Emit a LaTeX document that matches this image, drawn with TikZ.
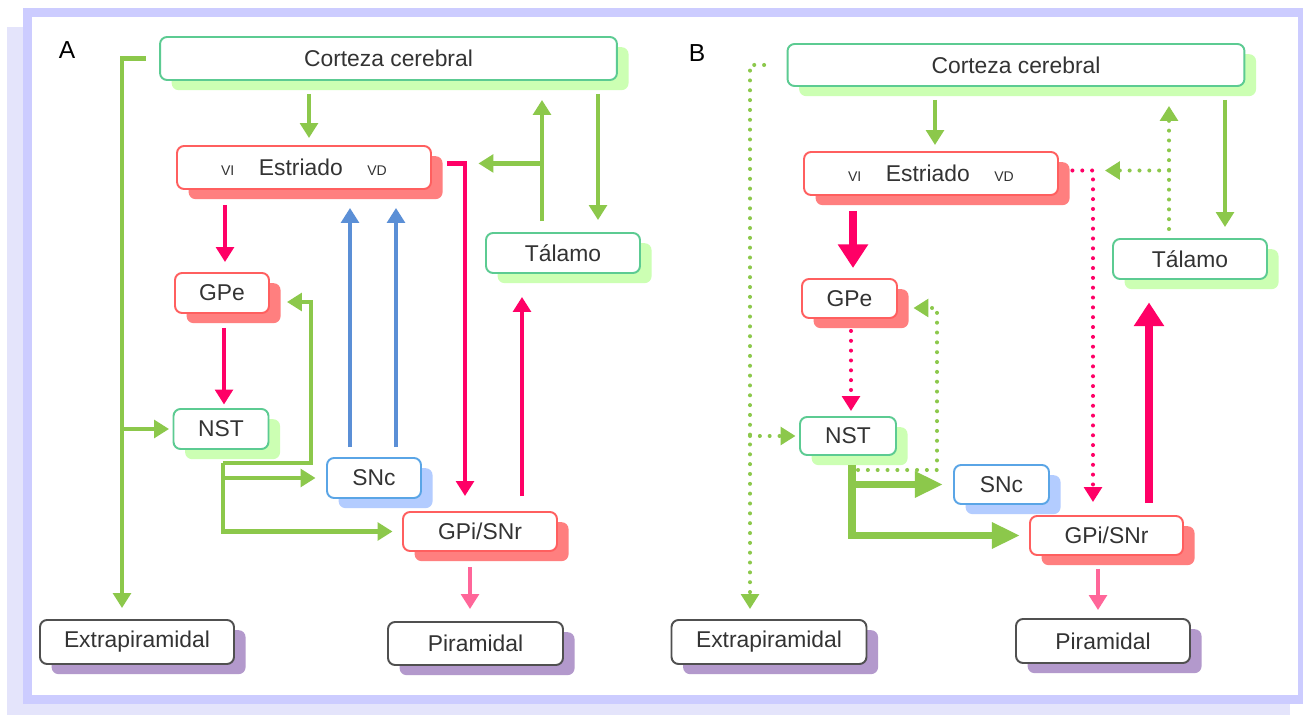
\documentclass[tikz,border=0pt]{standalone}
\usepackage{fontspec}
\setmainfont{Liberation Sans}
\usetikzlibrary{arrows.meta,shadows}

\definecolor{gline}{HTML}{8CC84B}
\definecolor{gedge}{HTML}{5CCB92}
\definecolor{gshade}{HTML}{CCFFB3}
\definecolor{redge}{HTML}{FF5F5F}
\definecolor{rshade}{HTML}{FF7F7F}
\definecolor{mline}{HTML}{FF0066}
\definecolor{pline}{HTML}{FF6699}
\definecolor{bline}{HTML}{5B8FD6}
\definecolor{bedge}{HTML}{5AA5E6}
\definecolor{bshade}{HTML}{B3CCFF}
\definecolor{kedge}{HTML}{505050}
\definecolor{kshade}{HTML}{B399CC}
\definecolor{fedge}{HTML}{CCCCFF}
\definecolor{fshade}{HTML}{E4E4FB}
\definecolor{txt}{HTML}{333333}

\newcommand{\estriado}{{\fontsize{8}{9}\selectfont VI}\hspace{14pt}Estriado\hspace{14pt}{\fontsize{8}{9}\selectfont VD}}

\tikzset{
	box/.style={draw,rounded corners=4pt,fill=white,line width=1.1pt,inner sep=0pt,
		text=txt,font=\fontsize{13}{15}\selectfont},
	shade/.style={drop shadow={shadow xshift=6.6pt,shadow yshift=-5.8pt,fill=#1,opacity=1}},
	gbox/.style={box,draw=gedge,shade=gshade},
	rbox/.style={box,draw=redge,shade=rshade},
	bbox/.style={box,draw=bedge,shade=bshade},
	kbox/.style={box,draw=kedge,shade=kshade},
	tip/.style={-{Triangle[width=10pt,length=8.5pt]}},
	ga/.style={gline,line width=2.6pt,tip},
	ma/.style={mline,line width=2.6pt,tip},
	ba/.style={bline,line width=2.6pt,tip},
	pa/.style={pline,line width=2.6pt,tip},
	gd/.style={gline,line width=2.3pt,line cap=round,dash pattern=on 0pt off 5.6pt,tip},
	md/.style={mline,line width=2.3pt,line cap=round,dash pattern=on 0pt off 5.6pt,tip},
	mt/.style={mline,line width=5pt,-{Triangle[width=16.5pt,length=13.5pt]}},
	gt/.style={gline,line width=4.5pt,-{Triangle[width=14pt,length=16pt]}}
}

\begin{document}
\begin{tikzpicture}[x=0.02cm,y=-0.02cm]
	\useasboundingbox (0,0) rectangle (1303,715);
	% frame
	\fill[fshade] (7,27) rectangle (1290,715);
	\draw[fedge,line width=5.1pt,fill=white] (27.5,12.5) rectangle (1302.5,699.5);

	% panel A
	\node[font=\fontsize{14}{16}\selectfont] (lA) at (67,50) {A};
	\node[gbox,minimum width=9.14cm,minimum height=.86cm] (cortA) at (388.5,58.5) {Corteza cerebral};
	\node[rbox,minimum width=5.08cm,minimum height=.86cm] (estA) at (304,167.5) {\estriado};
	\node[gbox,minimum width=3.08cm,minimum height=.8cm] (talA) at (563,253) {Tálamo};
	\node[rbox,minimum width=1.88cm,minimum height=.8cm] (gpeA) at (222,293) {GPe};
	\node[gbox,minimum width=1.9cm,minimum height=.8cm] (nstA) at (221,429) {NST};
	\node[bbox,minimum width=1.88cm,minimum height=.8cm] (sncA) at (374,478) {SNc};
	\node[rbox,minimum width=3.08cm,minimum height=.78cm] (gpiA) at (480,531.5) {GPi/SNr};
	\node[kbox,minimum width=3.88cm,minimum height=.88cm] (extA) at (137,642) {Extrapiramidal};
	\node[kbox,minimum width=3.5cm,minimum height=.86cm] (pirA) at (475.5,643.5) {Piramidal};

	\coordinate (eA) at ([yshift=2.3pt]estA.east);
	\coordinate (jA) at (223,463);
	\coordinate (kA) at (311,302);
	\draw[ga,shorten <=.26cm,shorten >=.14cm] (cortA.south -| 309,0) -- (estA.north -| 309,0);
	\draw[ga,shorten <=.26cm,shorten >=.24cm] (cortA.south -| 598,0) -- (talA.north -| 598,0);
	\draw[ga,shorten <=.22cm,shorten >=.38cm] (talA.north -| 542,0) -- (cortA.south -| 542,0);
	\draw[ga,shorten >=.93cm] (eA -| 542,0) -- (eA);
	\draw[ga,shorten <=.26cm,shorten >=.22cm] (cortA.west) -| (extA.north -| 122,0);
	\draw[ga,shorten >=.07cm] (nstA.west -| 122,0) -- (nstA.west);
	\draw[ma,shorten <=.3cm,shorten >=.2cm] (estA.south -| 225,0) -- (gpeA.north -| 225,0);
	\draw[ma,shorten <=.28cm,shorten >=.07cm] (gpeA.south -| 224,0) -- (nstA.north -| 224,0);
	\draw[ma,shorten <=.3cm,shorten >=.3cm] (eA) -| (gpiA.north -| 465,0);
	\draw[ma,shorten <=.3cm,shorten >=.46cm] (gpiA.north -| 522,0) -- (talA.south -| 522,0);
	\foreach \x in {350,396}
		\draw[ba,shorten <=.2cm,shorten >=.36cm] (sncA.north -| \x,0) -- (estA.south -| \x,0);
	\draw[ga,shorten >=.19cm] (jA) |- (gpiA.west);
	\draw[ga,shorten >=.21cm] (sncA.west -| jA) -- (sncA.west);
	\draw[ga,shorten >=.34cm] (jA) -| (kA) -- (kA -| gpeA.east);
	\draw[pa,shorten <=.31cm,shorten >=.24cm] (gpiA.south -| 470,0) -- (pirA.north -| 470,0);

	% panel B
	\node[font=\fontsize{14}{16}\selectfont] (lB) at (697,53) {B};
	\node[gbox,minimum width=9.14cm,minimum height=.84cm] (cortB) at (1016,65) {Corteza cerebral};
	\node[rbox,minimum width=5.08cm,minimum height=.86cm] (estB) at (931,173.5) {\estriado};
	\node[gbox,minimum width=3.08cm,minimum height=.8cm] (talB) at (1190,259) {Tálamo};
	\node[rbox,minimum width=1.9cm,minimum height=.78cm] (gpeB) at (849.5,298.5) {GPe};
	\node[gbox,minimum width=1.92cm,minimum height=.76cm] (nstB) at (848,436) {NST};
	\node[bbox,minimum width=1.9cm,minimum height=.78cm] (sncB) at (1001.5,484.5) {SNc};
	\node[rbox,minimum width=3.06cm,minimum height=.78cm] (gpiB) at (1106.5,535.5) {GPi/SNr};
	\node[kbox,minimum width=3.9cm,minimum height=.88cm] (extB) at (769,642) {Extrapiramidal};
	\node[kbox,minimum width=3.48cm,minimum height=.88cm] (pirB) at (1103,641) {Piramidal};

	\coordinate (eB) at ([yshift=1.7pt]estB.east);
	\coordinate (jB) at (852,465);
	\coordinate (dB) at (858,470);
	\coordinate (kB) at (937,308);
	\draw[ga,shorten <=.26cm,shorten >=.12cm] (cortB.south -| 935,0) -- (estB.north -| 935,0);
	\draw[ga,shorten <=.26cm,shorten >=.22cm] (cortB.south -| 1225,0) -- (talB.north -| 1225,0);
	\draw[gd,shorten <=.18cm,shorten >=.38cm] (talB.north -| 1169,0) -- (cortB.south -| 1169,0);
	\draw[gd,shorten >=.92cm] (eB -| 1169,0) -- (eB);
	\draw[mt,shorten <=.3cm,shorten >=.2cm] (estB.south -| 853,0) -- (gpeB.north -| 853,0);
	\draw[md,shorten <=.24cm,shorten >=.1cm] (gpeB.south -| 851,0) -- (nstB.north -| 851,0);
	\draw[md,shorten <=.27cm,shorten >=.26cm] (eB) -| (gpiB.north -| 1093,0);
	\draw[mt,shorten <=.24cm,shorten >=.45cm] (gpiB.north -| 1149,0) -- (talB.south -| 1149,0);
	\draw[gd,shorten <=.45cm,shorten >=.2cm] (cortB.west) -| (extB.north -| 750,0);
	\draw[gd,shorten >=.07cm] (nstB.west -| 750,0) -- (nstB.west);
	\draw[gd,shorten >=.31cm] (dB) -| (kB) -- (kB -| gpeB.east);
	\draw[gt,shorten >=.18cm] (jB) |- (gpiB.west);
	\draw[gt,shorten >=.2cm] (sncB.west -| jB) -- (sncB.west);
	\draw[pa,shorten <=.26cm,shorten >=.16cm] (gpiB.south -| 1098,0) -- (pirB.north -| 1098,0);
\end{tikzpicture}
\end{document}
